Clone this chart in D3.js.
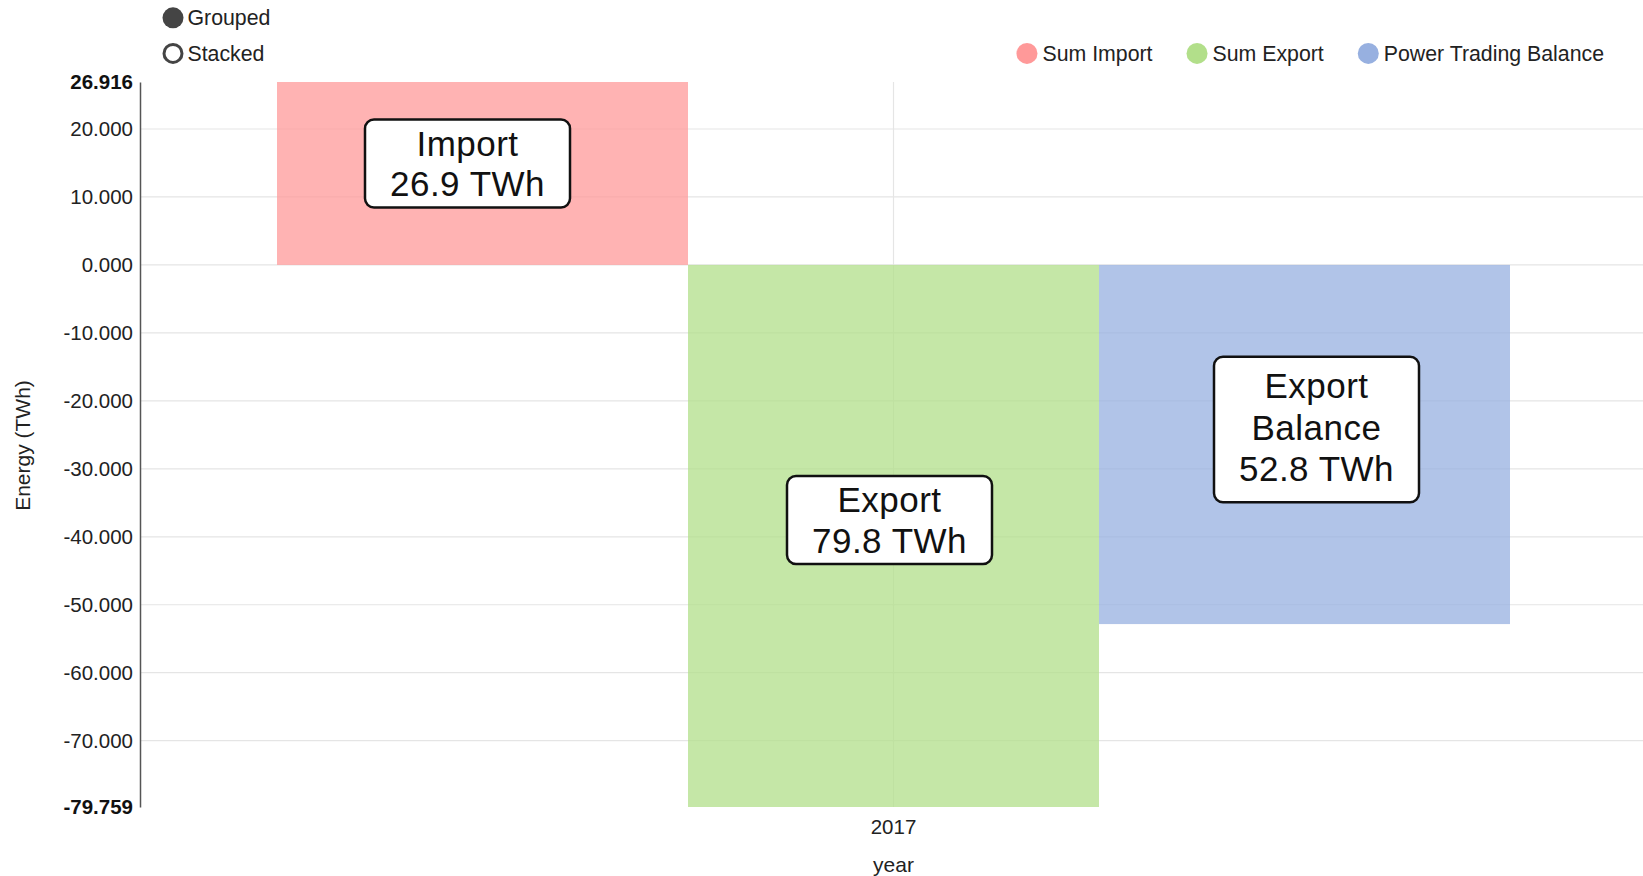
<!DOCTYPE html>
<html>
<head>
<meta charset="utf-8">
<script src="https://cdn.jsdelivr.net/npm/d3@7"></script>
<style>
  body { margin: 0; background: #fff; }
  svg { display: block; font-family: "Liberation Sans", Arial, sans-serif; }
  .tick text { fill: #222; font-size: 20.5px; }
  .grid line { stroke: #e5e5e5; stroke-width: 1.2; }
  .axis-title { fill: #222; font-size: 21px; }
  .legend text, .controls text { fill: #222; font-size: 21.3px; }
  .note rect { fill: #fff; stroke: #111; stroke-width: 2.5; }
  .note text { fill: #111; font-size: 35px; letter-spacing: 0.5px; }
</style>
</head>
<body>
<svg id="chart"></svg>
<script>
// ---- data ----
const years = ['2017'];
const seriesNames = ['Sum Import', 'Sum Export', 'Power Trading Balance'];
const seriesValues = [26.916, -79.759, -52.843];
const yTickValues = [-70, -60, -50, -40, -30, -20, -10, 0, 10, 20];
const noteLines = [
  ['Import', '26.9 TWh'],
  ['Export', '79.8 TWh'],
  ['Export', 'Balance', '52.8 TWh']
];
const controlLabels = ['Grouped', 'Stacked'];

// ---- styling ----
const seriesColors = ['#ff9999', '#b2df8a', '#97b0e0'];
// small nudges of the annotation boxes (px), as in the original
const noteLayout = [
  {dx: -15, dy: -10, pad: 7, ty: 0},
  {dx: -4, dy: -16, pad: 7, ty: 0},
  {dx: 12, dy: -15, pad: 24, ty: -2.5}
];

class GroupedBarChart {

  constructor(_config) {
    this.config = {
      parentElement: _config.parentElement,
      containerWidth: _config.containerWidth || 1643,
      containerHeight: _config.containerHeight || 876,
      margin: _config.margin || {top: 82, right: -4, bottom: 69, left: 140}
    };
    this.initVis();
  }

  initVis() {
    let vis = this;

    vis.width = vis.config.containerWidth - vis.config.margin.left - vis.config.margin.right;
    vis.height = vis.config.containerHeight - vis.config.margin.top - vis.config.margin.bottom;

    vis.svg = d3.select(vis.config.parentElement)
        .attr('width', vis.config.containerWidth)
        .attr('height', vis.config.containerHeight);

    vis.chart = vis.svg.append('g')
        .attr('transform', `translate(${vis.config.margin.left},${vis.config.margin.top})`);

    // scales
    vis.xScale = d3.scaleBand()
        .domain(years)
        .range([0, vis.width])
        .paddingInner(0.1)
        .paddingOuter(0.1);

    vis.xSub = d3.scaleBand()
        .domain(seriesNames)
        .range([0, vis.xScale.bandwidth()]);

    vis.yScale = d3.scaleLinear()
        .domain([d3.min(seriesValues), d3.max(seriesValues)])
        .range([vis.height, 0]);

    vis.colorScale = d3.scaleOrdinal()
        .domain(seriesNames)
        .range(seriesColors);

    vis.fmt = v => d3.format(',.3f')(v).replace('\u2212', '-');

    vis.gridG = vis.chart.append('g').attr('class', 'grid');
    vis.barsG = vis.chart.append('g').attr('class', 'bars');
    vis.yAxisG = vis.chart.append('g').attr('class', 'axis y-axis');
    vis.xAxisG = vis.chart.append('g').attr('class', 'axis x-axis')
        .attr('transform', `translate(0,${vis.height})`);
    vis.notesG = vis.chart.append('g').attr('class', 'notes');

    // axis titles
    vis.svg.append('text')
        .attr('class', 'axis-title')
        .attr('transform', `translate(23,${vis.config.margin.top + vis.height / 2 + 1}) rotate(-90)`)
        .attr('text-anchor', 'middle')
        .attr('dy', '0.35em')
        .text('Energy (TWh)');

    vis.svg.append('text')
        .attr('class', 'axis-title')
        .attr('x', vis.config.margin.left + vis.xScale(years[0]) + vis.xScale.bandwidth() / 2)
        .attr('y', 865)
        .attr('text-anchor', 'middle')
        .attr('dy', '0.35em')
        .text('year');

    vis.renderVis();
  }

  renderVis() {
    let vis = this;

    // gridlines
    vis.gridG.selectAll('.hgrid')
        .data(yTickValues)
        .join('line')
        .attr('class', 'hgrid')
        .attr('x1', 0)
        .attr('x2', vis.width)
        .attr('y1', d => vis.yScale(d))
        .attr('y2', d => vis.yScale(d));

    vis.gridG.selectAll('.vgrid')
        .data(years)
        .join('line')
        .attr('class', 'vgrid')
        .attr('x1', d => vis.xScale(d) + vis.xScale.bandwidth() / 2)
        .attr('x2', d => vis.xScale(d) + vis.xScale.bandwidth() / 2)
        .attr('y1', 0)
        .attr('y2', vis.height);

    // bars
    const barData = seriesNames.map((name, i) => ({year: years[0], name, value: seriesValues[i]}));
    vis.barsG.selectAll('.bar')
        .data(barData)
        .join('rect')
        .attr('class', 'bar')
        .attr('x', d => vis.xScale(d.year) + vis.xSub(d.name))
        .attr('width', vis.xSub.bandwidth())
        .attr('y', d => vis.yScale(Math.max(0, d.value)))
        .attr('height', d => Math.abs(vis.yScale(d.value) - vis.yScale(0)))
        .attr('fill', d => vis.colorScale(d.name))
        .attr('fill-opacity', 0.75);

    // y axis with bold min/max
    const yAxis = d3.axisLeft(vis.yScale)
        .tickValues(yTickValues)
        .tickSize(0)
        .tickPadding(7)
        .tickFormat(vis.fmt);
    vis.yAxisG.call(yAxis);
    vis.yAxisG.select('.domain').attr('stroke', '#555').attr('stroke-width', 1.5);

    vis.yAxisG.selectAll('.maxmin')
        .data(vis.yScale.domain())
        .join('text')
        .attr('class', 'maxmin')
        .attr('x', -7)
        .attr('y', d => vis.yScale(d))
        .attr('dy', '0.32em')
        .attr('text-anchor', 'end')
        .attr('fill', '#111')
        .style('font-size', '20.5px')
        .style('font-weight', 'bold')
        .text(vis.fmt);

    // x axis
    const xAxis = d3.axisBottom(vis.xScale).tickSize(0).tickPadding(12);
    vis.xAxisG.call(xAxis);
    vis.xAxisG.select('.domain').remove();

    // annotation boxes
    const lh = 40.5, boxW = 205;
    const notes = vis.notesG.selectAll('.note')
        .data(barData)
        .join('g')
        .attr('class', 'note')
        .attr('transform', (d, i) => {
          const cx = vis.xScale(d.year) + vis.xSub(d.name) + vis.xSub.bandwidth() / 2 + noteLayout[i].dx;
          const cy = vis.yScale(d.value / 2) + noteLayout[i].dy;
          return `translate(${cx},${cy})`;
        });

    notes.append('rect')
        .attr('x', -boxW / 2)
        .attr('width', boxW)
        .attr('y', (d, i) => -(noteLines[i].length * lh + noteLayout[i].pad) / 2)
        .attr('height', (d, i) => noteLines[i].length * lh + noteLayout[i].pad)
        .attr('rx', 9);

    notes.each(function(d, i) {
      const lines = noteLines[i];
      d3.select(this).selectAll('text')
          .data(lines)
          .join('text')
          .attr('text-anchor', 'middle')
          .attr('y', (t, j) => (j - (lines.length - 1) / 2) * (lines.length > 2 ? 41.4 : lh) + noteLayout[i].ty)
          .attr('dy', '0.36em')
          .text(t => t);
    });

    vis.renderLegend();
  }

  renderLegend() {
    let vis = this;

    // series legend, right aligned
    const legend = vis.svg.append('g').attr('class', 'legend');
    const items = legend.selectAll('g')
        .data(seriesNames)
        .join('g');
    items.append('circle')
        .attr('r', 10.5)
        .attr('fill', d => vis.colorScale(d));
    items.append('text')
        .attr('x', 15.5)
        .attr('dy', '0.35em')
        .text(d => d);

    const widths = [];
    items.select('text').each(function() { widths.push(this.getComputedTextLength()); });
    let xRight = 1604;
    const xs = [];
    for (let i = seriesNames.length - 1; i >= 0; i--) {
      const cx = xRight - widths[i] - 15.5;
      xs[i] = cx;
      xRight = cx - 44.5;
    }
    items.attr('transform', (d, i) => `translate(${xs[i]},53.4)`);

    // grouped / stacked controls
    const controls = vis.svg.append('g').attr('class', 'controls');
    const ctl = controls.selectAll('g')
        .data(controlLabels)
        .join('g')
        .attr('transform', (d, i) => `translate(173,${17.8 + i * 35.6})`);
    ctl.append('circle')
        .attr('r', (d, i) => i === 0 ? 10.5 : 9)
        .attr('fill', (d, i) => i === 0 ? '#444' : '#fff')
        .attr('stroke', '#444')
        .attr('stroke-width', (d, i) => i === 0 ? 0 : 3);
    ctl.append('text')
        .attr('x', 14.5)
        .attr('dy', '0.35em')
        .text(d => d);
  }
}

new GroupedBarChart({parentElement: '#chart'});
</script>
</body>
</html>
